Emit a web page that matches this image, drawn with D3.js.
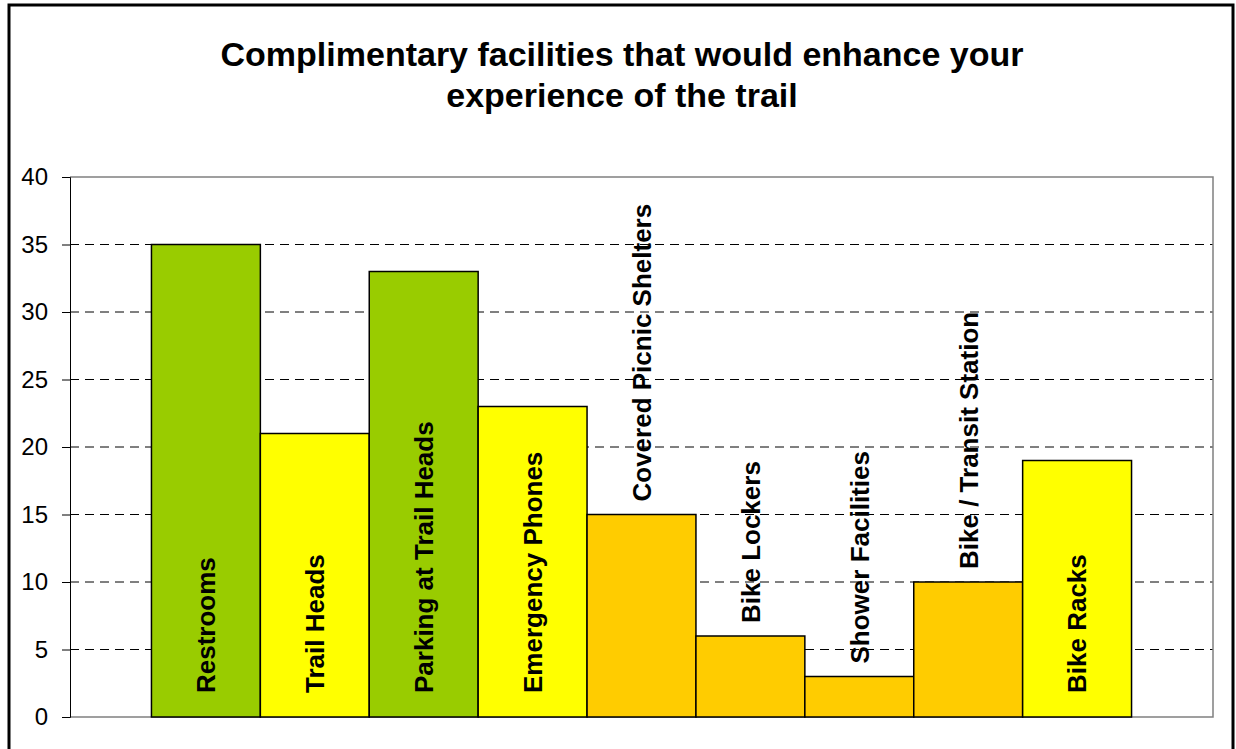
<!DOCTYPE html>
<html>
<head>
<meta charset="utf-8">
<script src="https://cdn.jsdelivr.net/npm/d3@7/dist/d3.min.js"></script>
<style>
  html, body { margin: 0; padding: 0; background: #ffffff; }
  svg { display: block; }
  text { font-family: "Liberation Sans", Arial, sans-serif; }
</style>
</head>
<body>
<svg id="chart" width="1236" height="749"></svg>
<script>
const titleLines = ["Complimentary facilities that would enhance your", "experience of the trail"];
const categories = ["Restrooms", "Trail Heads", "Parking at Trail Heads", "Emergency Phones",
  "Covered Picnic Shelters", "Bike Lockers", "Shower Facilities", "Bike / Transit Station", "Bike Racks"];
const values = [35, 21, 33, 23, 15, 6, 3, 10, 19];
const barColors = ["#99CC00", "#FFFF00", "#99CC00", "#FFFF00", "#FFCC00", "#FFCC00", "#FFCC00", "#FFCC00", "#FFFF00"];
const yTicks = [0, 5, 10, 15, 20, 25, 30, 35, 40];

const svg = d3.select("#chart");
const W = 1236, H = 749;
const plot = { left: 70, right: 1213, top: 177, bottom: 717 };

svg.append("rect").attr("x", 0).attr("y", 0).attr("width", W).attr("height", H).attr("fill", "#fff");

// outer chart border
svg.append("rect").attr("x", 9).attr("y", 5).attr("width", 1224).attr("height", 800)
  .attr("fill", "none").attr("stroke", "#000").attr("stroke-width", 3);

// title
svg.append("text")
  .attr("x", 622).attr("text-anchor", "middle")
  .attr("font-size", 34).attr("font-weight", "bold").attr("fill", "#000")
  .selectAll("tspan").data(titleLines).join("tspan")
  .attr("x", 622).attr("y", (d, i) => 66 + i * 41).text(d => d);

const x = d3.scaleBand().domain(categories).range([plot.left, plot.right])
  .paddingInner(0).paddingOuter(0.748);
const y = d3.scaleLinear().domain([0, 40]).range([plot.bottom, plot.top]);

// gridlines (dashed)
svg.append("g").selectAll("line").data(yTicks.filter(t => t > 0 && t < 40)).join("line")
  .attr("x1", plot.left).attr("x2", plot.right)
  .attr("y1", d => y(d)).attr("y2", d => y(d))
  .attr("stroke", "#000").attr("stroke-width", 1).attr("stroke-dasharray", "9,6");

// plot area border (gray)
svg.append("path")
  .attr("d", `M${plot.left},${plot.top}H${plot.right}V${plot.bottom}H${plot.left}`)
  .attr("fill", "none").attr("stroke", "#808080").attr("stroke-width", 1.5);

// bars
svg.append("g").selectAll("rect").data(values).join("rect")
  .attr("x", (d, i) => x(categories[i]))
  .attr("y", d => y(d))
  .attr("width", x.bandwidth())
  .attr("height", d => y(0) - y(d))
  .attr("fill", (d, i) => barColors[i])
  .attr("stroke", "#000").attr("stroke-width", 1.5);

// y axis
const yAxis = d3.axisLeft(y).tickValues(yTicks).tickSize(8).tickPadding(14).tickFormat(d3.format("d"));
const ga = svg.append("g").attr("transform", `translate(${plot.left},0)`).call(yAxis);
ga.select(".domain").attr("stroke", "#000").attr("stroke-width", 1);
ga.selectAll(".tick line").attr("stroke", "#000");
ga.selectAll(".tick text").attr("font-size", 24).attr("fill", "#000")
  .attr("font-family", "'Liberation Sans', Arial, sans-serif");

// category labels (rotated)
const lbl = svg.append("g").selectAll("text").data(categories).join("text")
  .attr("font-size", 26).attr("font-weight", "bold").attr("fill", "#000")
  .attr("text-anchor", "start").attr("dy", "0.36em")
  .text(d => d);
lbl.each(function(d, i) {
  const len = this.getComputedTextLength();
  const cx = x(d) + x.bandwidth() / 2;
  const barH = y(0) - y(values[i]);
  const inside = len + 24 + 10 < barH;
  const sy = inside ? y(0) - 24 : y(values[i]) - 13;
  d3.select(this).attr("transform", `translate(${cx},${sy}) rotate(-90)`);
});
</script>
</body>
</html>
